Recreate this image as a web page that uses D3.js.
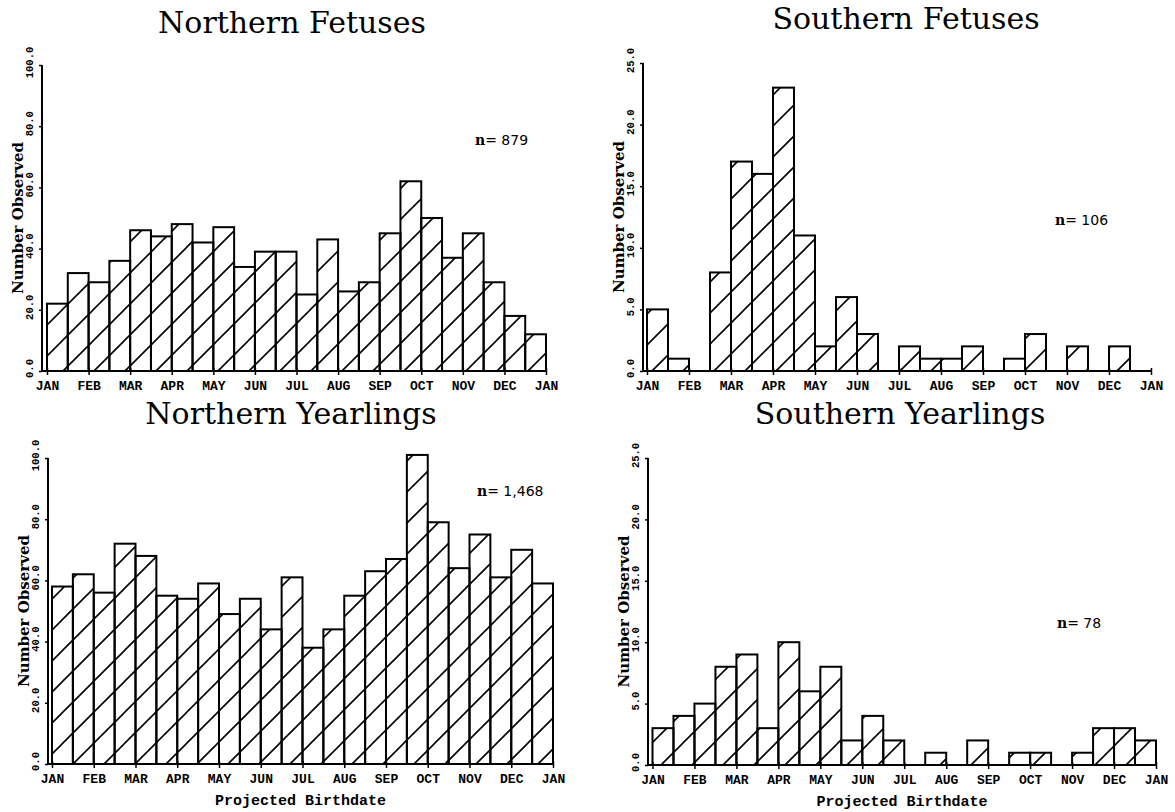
<!DOCTYPE html>
<html>
<head>
<meta charset="utf-8">
<script src="https://cdn.jsdelivr.net/npm/d3@7"></script>
<style>
  body { margin: 0; background: #fff; }
  svg { display: block; }
</style>
</head>
<body>
<svg id="chart" width="1175" height="812"></svg>
<script>
// month tick labels (13 ticks, 24 half-month bins)
const monthLabels = ['JAN','FEB','MAR','APR','MAY','JUN','JUL','AUG','SEP','OCT','NOV','DEC','JAN'];

const northFetuses = [22,32,29,36,46,44,48,42,47,34,39,39,25,43,26,29,45,62,50,37,45,29,18,12];
const southFetuses = [5,1,0,8,17,16,23,11,2,6,3,0,2,1,1,2,0,1,3,0,2,0,2,0];
const northYearlings = [58,62,56,72,68,55,54,59,49,54,44,61,38,44,55,63,67,101,79,64,75,61,70,59];
const southYearlings = [3,4,5,8,9,3,10,6,8,2,4,2,0,1,0,2,0,1,1,0,1,3,3,2];

const northTicks = [0,20,40,60,80,100];
const southTicks = [0,5,10,15,20,25];

const panels = [
  {title:'Northern Fetuses', data:northFetuses, ticks:northTicks, max:100, n:'879',
   axisX:42, x0:47, x1:546, yTop:65, yBot:371, titleX:292, titleY:33, nX:475, nY:145, xTitle:false},
  {title:'Southern Fetuses', data:southFetuses, ticks:southTicks, max:25, n:'106',
   axisX:643, x0:647, x1:1151, yTop:63, yBot:371, titleX:906, titleY:29, nX:1055, nY:225, xTitle:false},
  {title:'Northern Yearlings', data:northYearlings, ticks:northTicks, max:100, n:'1,468',
   axisX:48, x0:52, x1:553, yTop:458, yBot:764, titleX:291, titleY:424, nX:477, nY:496, xTitle:true},
  {title:'Southern Yearlings', data:southYearlings, ticks:southTicks, max:25, n:'78',
   axisX:648, x0:652.5, x1:1156, yTop:458, yBot:765, titleX:900, titleY:424, nX:1057, nY:628, xTitle:true}
];

const svg = d3.select('#chart');

// diagonal hatch
const P = 31;
svg.append('defs').append('pattern')
  .attr('id', 'hatch')
  .attr('patternUnits', 'userSpaceOnUse')
  .attr('width', P).attr('height', P)
  .append('path')
  .attr('d', `M0,${P} L${P},0 M${-P/4},${P/4} L${P/4},${-P/4} M${3*P/4},${5*P/4} L${5*P/4},${3*P/4}`)
  .attr('stroke', '#000').attr('stroke-width', 1.6);

const monoBold = "'Liberation Mono', 'DejaVu Sans Mono', monospace";

panels.forEach(p => {
  const g = svg.append('g');

  const x = d3.scaleLinear().domain([0, 24]).range([p.x0, p.x1]);
  const y = d3.scaleLinear().domain([0, p.max]).range([p.yBot, p.yTop]);

  const bins = p.data.map((v, i) => ({v, i})).filter(d => d.v > 0);

  // bars
  g.selectAll('rect.bar')
    .data(bins)
    .enter()
    .append('rect')
    .attr('class', 'bar')
    .attr('x', d => x(d.i))
    .attr('width', x(1) - x(0))
    .attr('y', d => y(d.v))
    .attr('height', d => p.yBot - y(d.v))
    .attr('fill', 'url(#hatch)')
    .attr('stroke', '#000')
    .attr('stroke-width', 2);

  // x axis
  const xAxis = d3.axisBottom(x)
    .tickValues(d3.range(0, 25, 2))
    .tickSize(4)
    .tickFormat((d, i) => monthLabels[i]);
  const xg = g.append('g')
    .attr('transform', `translate(0,${p.yBot})`)
    .call(xAxis);
  xg.select('.domain').remove();
  xg.selectAll('line').attr('stroke', '#000').attr('stroke-width', 1.5).attr('y1', -3);
  xg.selectAll('text')
    .attr('y', 10)
    .attr('font-family', monoBold)
    .attr('font-weight', 'bold')
    .attr('font-size', 13)
    .attr('fill', '#000');
  g.append('line')
    .attr('x1', p.axisX).attr('x2', p.x1)
    .attr('y1', p.yBot).attr('y2', p.yBot)
    .attr('stroke', '#000').attr('stroke-width', 2);

  // y axis
  const yAxis = d3.axisLeft(y)
    .tickValues(p.ticks)
    .tickSize(3)
    .tickFormat(d3.format('.1f'));
  const yg = g.append('g')
    .attr('transform', `translate(${p.axisX},0)`)
    .call(yAxis);
  yg.select('.domain').attr('stroke', '#000').attr('stroke-width', 2).attr('d', `M0,${p.yBot}V${p.yTop}`);
  yg.selectAll('line').attr('stroke', '#000').attr('stroke-width', 1.5);
  yg.selectAll('text')
    .attr('x', null).attr('dy', null)
    .attr('text-anchor', 'middle')
    .attr('transform', 'translate(-9,-3) rotate(-90)')
    .attr('font-family', monoBold)
    .attr('font-weight', 'bold')
    .attr('font-size', 10.5)
    .attr('fill', '#000');

  // y title
  g.append('text')
    .attr('transform', `translate(${p.axisX - 19},${(p.yTop + p.yBot) / 2}) rotate(-90)`)
    .attr('text-anchor', 'middle')
    .attr('font-family', "'DejaVu Serif', serif")
    .attr('font-weight', 'bold')
    .attr('font-size', 15)
    .text('Number Observed');

  // panel title
  g.append('text')
    .attr('x', p.titleX).attr('y', p.titleY)
    .attr('text-anchor', 'middle')
    .attr('font-family', "'DejaVu Serif', serif")
    .attr('font-size', 30)
    .text(p.title);

  // n label
  const nt = g.append('text')
    .attr('x', p.nX).attr('y', p.nY)
    .attr('font-family', "'DejaVu Sans', sans-serif")
    .attr('font-size', 14);
  nt.append('tspan').attr('font-weight', 'bold').attr('font-family', "'DejaVu Serif', serif").text('n');
  nt.append('tspan').text('= ' + p.n);

  if (p.xTitle) {
    g.append('text')
      .attr('x', (p.axisX + p.x1) / 2).attr('y', p.yBot + 41)
      .attr('text-anchor', 'middle')
      .attr('font-family', monoBold)
      .attr('font-weight', 'bold')
      .attr('font-size', 15)
      .text('Projected Birthdate');
  }
});
</script>
</body>
</html>
